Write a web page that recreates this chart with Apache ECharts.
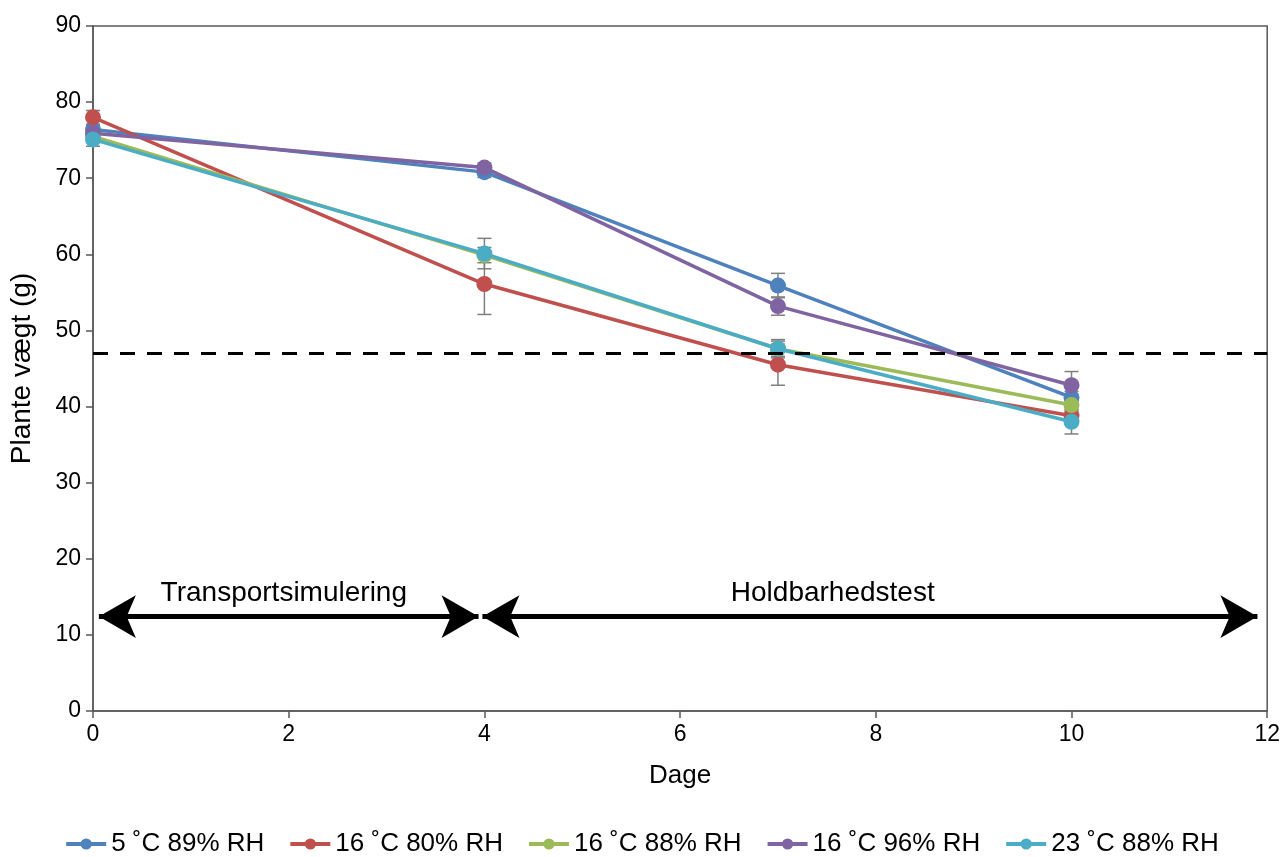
<!DOCTYPE html>
<html>
<head>
<meta charset="utf-8">
<title>Plante vægt</title>
<script src="https://cdn.jsdelivr.net/npm/echarts@6/dist/echarts.min.js"></script>
<style>
  html, body { margin: 0; padding: 0; background: #fff; }
  #chart { width: 1283px; height: 857px; }
</style>
</head>
<body>
<div id="chart"></div>
<script>
// days on the x axis
var days = [0, 4, 7, 10];

var seriesNames = ["5 ˚C 89% RH", "16 ˚C 80% RH", "16 ˚C 88% RH", "16 ˚C 96% RH", "23 ˚C 88% RH"];
var seriesColors = ["#4F81BD", "#C0504D", "#9BBB59", "#8064A2", "#4BACC6"];

// mean plant weight (g)
var weight5c89 = [76.4, 70.8, 55.9, 41.2];
var weight16c80 = [78.0, 56.1, 45.5, 38.8];
var weight16c88 = [75.5, 59.9, 47.6, 40.2];
var weight16c96 = [75.9, 71.4, 53.2, 42.8];
var weight23c88 = [75.1, 60.1, 47.6, 38.0];

// error (+/-)
var err5c89 = [0.6, 0.7, 1.6, 0.8];
var err16c80 = [0.9, 4.0, 2.7, 0.6];
var err16c88 = [0.5, 1.0, 1.0, 0.6];
var err16c96 = [0.6, 0.6, 1.2, 1.8];
var err23c88 = [0.9, 2.0, 1.2, 1.6];

var thresholdWeight = 47;

// double arrows marking the two phases
var arrowY = 12.4;
var transportArrow = [0.06, 3.94];
var holdArrow = [3.98, 11.9];
var phaseLabels = ["Transportsimulering", "Holdbarhedstest"];
var phaseLabelPos = [[1.95, 15.5], [7.56, 15.5]];

(function () {
  var font = "Liberation Sans, Arial, sans-serif";
  var allWeights = [weight5c89, weight16c80, weight16c88, weight16c96, weight23c88];
  var allErrors = [err5c89, err16c80, err16c88, err16c96, err23c88];

  function errorBarSeries(values, errors) {
    var data = days.map(function (d, i) {
      return [d, values[i] - errors[i], values[i] + errors[i]];
    });
    return {
      type: "custom",
      silent: true,
      z: 1,
      renderItem: function (params, api) {
        var top = api.coord([api.value(0), api.value(2)]);
        var bot = api.coord([api.value(0), api.value(1)]);
        var half = 7;
        var style = { stroke: "#7f7f7f", lineWidth: 1.5 };
        return {
          type: "group",
          children: [
            { type: "line", shape: { x1: top[0], y1: top[1], x2: bot[0], y2: bot[1] }, style: style },
            { type: "line", shape: { x1: top[0] - half, y1: top[1], x2: top[0] + half, y2: top[1] }, style: style },
            { type: "line", shape: { x1: bot[0] - half, y1: bot[1], x2: bot[0] + half, y2: bot[1] }, style: style }
          ]
        };
      },
      encode: { x: 0, y: [1, 2] },
      data: data
    };
  }

  var series = [];
  allWeights.forEach(function (vals, k) {
    series.push(errorBarSeries(vals, allErrors[k]));
  });

  // threshold line
  series.push({
    type: "line",
    name: "ref",
    data: [],
    silent: true,
    markLine: {
      silent: true,
      animation: false,
      symbol: ["none", "none"],
      label: { show: false },
      lineStyle: { color: "#000", width: 3, type: [15, 12] },
      data: [[{ coord: [0, thresholdWeight] }, { coord: [12, thresholdWeight] }]]
    }
  });
  // phase arrows
  series.push({
    type: "line",
    name: "arrows",
    data: [],
    silent: true,
    markLine: {
      silent: true,
      animation: false,
      symbol: ["arrow", "arrow"],
      symbolSize: [32, 37],
      label: { show: false },
      lineStyle: { color: "#000", width: 5, type: "solid", opacity: 1 },
      data: [
        [{ coord: [transportArrow[0], arrowY] }, { coord: [transportArrow[1], arrowY] }],
        [{ coord: [holdArrow[0], arrowY] }, { coord: [holdArrow[1], arrowY] }]
      ]
    }
  });
  series.push({
    type: "scatter",
    name: "labels",
    silent: true,
    symbolSize: 0,
    itemStyle: { opacity: 1 },
    data: phaseLabelPos.map(function (p, i) { return { value: p, name: phaseLabels[i] }; }),
    label: {
      show: true,
      position: "inside",
      formatter: function (p) { return p.name; },
      color: "#000",
      opacity: 1,
      fontSize: 28,
      fontFamily: font
    }
  });

  allWeights.forEach(function (vals, k) {
    series.push({
      type: "line",
      name: seriesNames[k],
      z: 3,
      symbol: "circle",
      symbolSize: 16,
      color: seriesColors[k],
      lineStyle: { width: 3.5, color: seriesColors[k] },
      itemStyle: { color: seriesColors[k] },
      data: days.map(function (d, i) { return [d, vals[i]]; })
    });
  });

  var option = {
    animation: false,
    backgroundColor: "#fff",
    grid: {
      left: 92, right: 15, top: 26, bottom: 146,
      show: true, borderColor: "#595959", borderWidth: 1.5
    },
    legend: {
      data: seriesNames,
      top: 826,
      left: "center",
      itemWidth: 40,
      itemHeight: 14,
      itemGap: 24,
      lineStyle: { width: 4 },
      textStyle: { color: "#000", fontSize: 26, fontFamily: font }
    },
    xAxis: {
      type: "value",
      min: 0, max: 12, interval: 2,
      name: "Dage",
      nameLocation: "middle",
      nameGap: 52,
      nameTextStyle: { color: "#000", fontSize: 26, fontFamily: font },
      axisLine: { onZero: false, lineStyle: { color: "#595959", width: 1.5 } },
      axisTick: { show: true, inside: false, length: 7, lineStyle: { color: "#595959", width: 1.5 } },
      axisLabel: { color: "#000", fontSize: 23, fontFamily: font, margin: 12 },
      splitLine: { show: false }
    },
    yAxis: {
      type: "value",
      min: 0, max: 90, interval: 10,
      name: "Plante vægt (g)",
      nameLocation: "middle",
      nameGap: 57,
      nameTextStyle: { color: "#000", fontSize: 28, fontFamily: font },
      axisLine: { show: true, lineStyle: { color: "#595959", width: 1.5 } },
      axisTick: { show: true, inside: false, length: 7, lineStyle: { color: "#595959", width: 1.5 } },
      axisLabel: { color: "#000", fontSize: 23, fontFamily: font, margin: 12 },
      splitLine: { show: false }
    },
    series: series
  };

  var chart = echarts.init(document.getElementById("chart"));
  chart.setOption(option);
})();
</script>
</body>
</html>
